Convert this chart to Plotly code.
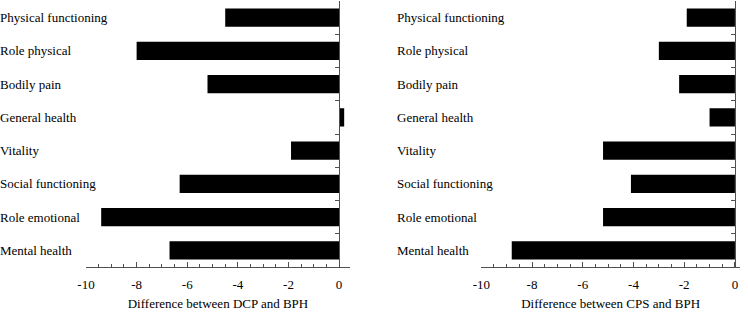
import plotly.graph_objects as go

categories = ["Physical functioning", "Role physical", "Bodily pain", "General health",
              "Vitality", "Social functioning", "Role emotional", "Mental health"]
dcp_vs_bph = [-4.5, -8.0, -5.2, 0.2, -1.9, -6.3, -9.4, -6.7]
cps_vs_bph = [-1.9, -3.0, -2.2, -1.0, -5.2, -4.1, -5.2, -8.8]
x_titles = ["Difference between DCP and BPH", "Difference between CPS and BPH"]
tick_vals = [-10, -8, -6, -4, -2, 0]

W, H = 748, 314
FONT = "'Liberation Serif', 'Times New Roman', Tinos, 'Nimbus Roman', FreeSerif, serif"
AX = "#505050"

panels = [
    dict(values=dcp_vs_bph, dom=(86 / W, 350 / W), xmax=0.43, label_x=-2 / W, title=x_titles[0]),
    dict(values=cps_vs_bph, dom=(481.3 / W, 740 / W), xmax=0.2, label_x=394.7 / W, title=x_titles[1]),
]

fig = go.Figure()
annotations = []
for i, p in enumerate(panels, start=1):
    xa = "x" if i == 1 else f"x{i}"
    ya = "y" if i == 1 else f"y{i}"
    fig.add_trace(go.Bar(
        x=p["values"], y=categories, orientation="h",
        marker=dict(color="black", line=dict(width=0)),
        width=0.55, xaxis=xa, yaxis=ya, showlegend=False,
    ))
    xmin = -10
    d0, d1 = p["dom"]
    ypos = d0 + (0 - xmin) / (p["xmax"] - xmin) * (d1 - d0)
    xkey = "xaxis" if i == 1 else f"xaxis{i}"
    ykey = "yaxis" if i == 1 else f"yaxis{i}"
    fig.update_layout(**{
        xkey: dict(
            domain=list(p["dom"]), range=[xmin, p["xmax"]], anchor=ya,
            tickvals=tick_vals, ticktext=[str(v) for v in tick_vals],
            ticks="inside", ticklen=5, tickwidth=1, tickcolor=AX,
            minor=dict(dtick=0.5, tick0=0, ticks="inside", ticklen=3, tickcolor=AX, tickwidth=1),
            showline=True, linecolor=AX, linewidth=1,
            showgrid=False, zeroline=False, automargin=False,
            ticklabelstandoff=5,
            tickfont=dict(family=FONT, size=13, color="black"),
            title=dict(text=p["title"], font=dict(family=FONT, size=13, color="black"), standoff=8),
        ),
        ykey: dict(
            domain=[0, 1], anchor="free", position=ypos, side="right",
            type="category", categoryorder="array", categoryarray=categories,
            autorange="reversed",
            tickson="boundaries", ticks="inside", ticklen=4, tickcolor=AX,
            showticklabels=False, automargin=False,
            showline=True, linecolor=AX, linewidth=1,
            showgrid=False, zeroline=False,
        ),
    })
    for c in categories:
        annotations.append(dict(
            text=c, xref="paper", yref=ya, x=p["label_x"], y=c,
            xanchor="left", yanchor="middle", showarrow=False,
            font=dict(family=FONT, size=13, color="black"),
        ))

fig.update_layout(
    width=W, height=H,
    margin=dict(l=0, r=0, t=1, b=47, pad=0, autoexpand=False),
    paper_bgcolor="white", plot_bgcolor="white",
    bargap=0.45,
    annotations=annotations,
)

fig.write_html("out.html", config={"displayModeBar": False},
               post_script="document.body.style.margin='0';")
